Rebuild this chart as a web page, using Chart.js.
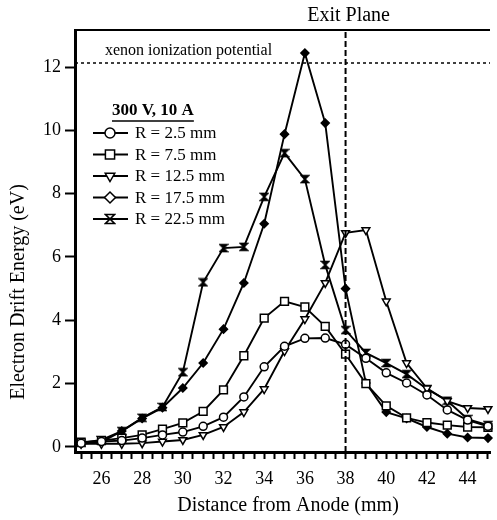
<!DOCTYPE html>
<html>
<head>
<meta charset="utf-8">
<script src="https://cdn.jsdelivr.net/npm/chart.js@4.4.1/dist/chart.umd.min.js"></script>
<style>
  html, body { margin: 0; padding: 0; background: #fff; }
  canvas { display: block; }
</style>
</head>
<body>
<canvas id="drift-chart" width="497" height="520"></canvas>
<script>
// Distance from anode (mm)
const distances = [25, 26, 27, 28, 29, 30, 31, 32, 33, 34, 35, 36, 37, 38, 39, 40, 41, 42, 43, 44, 45];

// Electron drift energy (eV) at each radius
const r2_5 = [0.12, 0.17, 0.2, 0.28, 0.38, 0.47, 0.65, 0.94, 1.58, 2.53, 3.18, 3.43, 3.44, 3.24, 2.8, 2.34, 2.02, 1.64, 1.17, 0.85, 0.65];
const r7_5 = [0.15, 0.2, 0.28, 0.38, 0.56, 0.76, 1.12, 1.8, 2.88, 4.07, 4.6, 4.42, 3.81, 2.93, 2.0, 1.3, 0.92, 0.77, 0.69, 0.63, 0.62];
const r12_5 = [0.1, 0.1, 0.1, 0.12, 0.17, 0.22, 0.38, 0.63, 1.1, 1.83, 3.03, 4.04, 5.18, 6.76, 6.85, 4.6, 2.65, 1.85, 1.45, 1.23, 1.2];
const r17_5 = [0.1, 0.15, 0.5, 0.9, 1.24, 1.86, 2.65, 3.72, 5.18, 7.05, 9.88, 12.44, 10.23, 5.0, 2.02, 1.1, 0.9, 0.63, 0.42, 0.3, 0.28];
const r22_5 = [0.13, 0.22, 0.5, 0.92, 1.26, 2.36, 5.2, 6.28, 6.32, 7.9, 9.28, 8.46, 5.75, 3.69, 2.97, 2.65, 2.3, 1.83, 1.46, 0.88, 0.69];

const seriesLabels = ['R = 2.5 mm', 'R = 7.5 mm', 'R = 12.5 mm', 'R = 17.5 mm', 'R = 22.5 mm'];

// Axis ticks
const xLabelTicks = [26, 28, 30, 32, 34, 36, 38, 40, 42, 44];
const yLabelTicks = [0, 2, 4, 6, 8, 10, 12];
const xRange = [24.7, 45.1];
const yRange = [-0.16, 13.17];

// Reference lines
const ionizationPotential = 12.13; // xenon, eV
const exitPlane = 38; // mm

const FONT = 'Liberation Serif';

// hourglass marker (no built-in style for it)
function makeHourglass(filled, size) {
    const c = document.createElement('canvas');
    c.width = size;
    c.height = size;
    const g = c.getContext('2d');
    const a = 1.5, b = size - 1.5;
    g.lineWidth = 1.6;
    g.strokeStyle = '#000';
    g.fillStyle = '#000';
    g.beginPath();
    g.moveTo(a, a);
    g.lineTo(b, a);
    g.lineTo(a, b);
    g.lineTo(b, b);
    g.closePath();
    if (filled) g.fill();
    g.stroke();
    return c;
}
const hourglassFilled = makeHourglass(true, 10);
const hourglassOpen = makeHourglass(false, 12);

function toPoints(values) {
    return values.map((v, i) => ({ x: distances[i], y: v }));
}

function seriesDataset(label, values, style) {
    return Object.assign({
        label: label,
        data: toPoints(values),
        borderColor: '#000',
        borderWidth: 1.9,
        pointBorderColor: '#000',
        pointBackgroundColor: '#fff',
        pointBorderWidth: 1.5,
        tension: 0,
        clip: false
    }, style);
}

const legendStyles = [
    { pointStyle: 'circle', radius: 5, rotation: 0 },
    { pointStyle: 'rect', radius: 6.5, rotation: 0 },
    { pointStyle: 'triangle', radius: 5.5, rotation: 180 },
    { pointStyle: 'rectRot', radius: 5.5, rotation: 0 },
    { pointStyle: hourglassOpen, radius: 6, rotation: 0 }
];

// Draws texts, top frame line and the legend box
const decorPlugin = {
    id: 'decor',
    afterDraw(chart) {
        const ctx = chart.ctx;
        const area = chart.chartArea;
        ctx.save();

        // top frame line
        ctx.strokeStyle = '#000';
        ctx.lineWidth = 2;
        ctx.beginPath();
        ctx.moveTo(area.left, area.top);
        ctx.lineTo(area.right, area.top);
        ctx.stroke();

        ctx.fillStyle = '#000';
        ctx.textBaseline = 'middle';

        // Exit Plane label
        ctx.font = '20px "' + FONT + '"';
        ctx.textAlign = 'center';
        ctx.fillText('Exit Plane', chart.scales.x.getPixelForValue(exitPlane) + 3, 16);

        // ionization label
        ctx.font = '16px "' + FONT + '"';
        ctx.textAlign = 'left';
        ctx.fillText('xenon ionization potential', 105, 51);

        // axis titles
        ctx.font = '20px "' + FONT + '"';
        ctx.textAlign = 'center';
        ctx.fillText('Distance from Anode (mm)', 288, 506);
        ctx.save();
        ctx.translate(19, 292);
        ctx.rotate(-Math.PI / 2);
        ctx.fillText('Electron Drift Energy (eV)', 0, 0);
        ctx.restore();

        // legend heading
        ctx.font = 'bold 17px "' + FONT + '"';
        ctx.textAlign = 'left';
        const heading = '300 V, 10 A';
        ctx.fillText(heading, 112, 111);
        const hw = ctx.measureText(heading).width;
        ctx.lineWidth = 1.5;
        ctx.beginPath();
        ctx.moveTo(112, 121);
        ctx.lineTo(112 + hw, 121);
        ctx.stroke();

        // legend entries
        ctx.font = '17px "' + FONT + '"';
        seriesLabels.forEach((label, i) => {
            const y = 133 + i * 21.5;
            ctx.strokeStyle = '#000';
            ctx.lineWidth = 1.8;
            ctx.beginPath();
            ctx.moveTo(93, y);
            ctx.lineTo(128, y);
            ctx.stroke();
            ctx.fillStyle = '#fff';
            ctx.lineWidth = 1.5;
            Chart.helpers.drawPoint(ctx, Object.assign({ borderWidth: 1.5 }, legendStyles[i]), 110, y);
            ctx.fillStyle = '#000';
            ctx.fillText(label, 135, y + 1);
        });

        ctx.restore();
    }
};

const ctx = document.getElementById('drift-chart').getContext('2d');
const driftChart = new Chart(ctx, {
    type: 'line',
    data: {
        datasets: [
            // reference lines
            {
                label: 'ionization',
                data: [{ x: xRange[0], y: ionizationPotential }, { x: xRange[1], y: ionizationPotential }],
                borderColor: '#000',
                borderWidth: 1.5,
                borderDash: [3, 3],
                pointRadius: 0
            },
            {
                label: 'exit plane',
                data: [{ x: exitPlane, y: yRange[0] }, { x: exitPlane, y: yRange[1] }],
                borderColor: '#000',
                borderWidth: 2,
                borderDash: [6, 3],
                pointRadius: 0
            },
            seriesDataset(seriesLabels[0], r2_5, { pointStyle: 'circle', pointRadius: 4 }),
            seriesDataset(seriesLabels[1], r7_5, { pointStyle: 'rect', pointRadius: 5.5 }),
            seriesDataset(seriesLabels[2], r12_5, { pointStyle: 'triangle', pointRadius: 4.5, pointRotation: 180 }),
            seriesDataset(seriesLabels[3], r17_5, { pointStyle: 'rectRot', pointRadius: 4, pointBackgroundColor: '#000' }),
            seriesDataset(seriesLabels[4], r22_5, { pointStyle: hourglassFilled, pointRadius: 5 })
        ]
    },
    options: {
        responsive: false,
        animation: false,
        layout: { padding: { top: 30, right: 0, left: 0, bottom: 0 } },
        plugins: {
            legend: { display: false },
            tooltip: { enabled: false }
        },
        scales: {
            x: {
                type: 'linear',
                min: xRange[0],
                max: xRange[1],
                afterBuildTicks: (scale) => {
                    const ticks = [];
                    for (let v = 25; v <= 45; v += 0.5) ticks.push({ value: v });
                    scale.ticks = ticks;
                },
                afterFit: (scale) => { scale.height = 68; },
                ticks: {
                    autoSkip: false,
                    maxRotation: 0,
                    padding: 9,
                    color: '#000',
                    font: { family: FONT, size: 18 },
                    callback: (value) => xLabelTicks.includes(value) ? String(value) : ''
                },
                grid: {
                    drawOnChartArea: false,
                    tickLength: 7,
                    tickWidth: 2,
                    tickColor: '#000'
                },
                border: { display: true, width: 3, color: '#000' }
            },
            y: {
                type: 'linear',
                min: yRange[0],
                max: yRange[1],
                afterBuildTicks: (scale) => {
                    scale.ticks = yLabelTicks.map(v => ({ value: v }));
                },
                afterFit: (scale) => { scale.width = 75; },
                ticks: {
                    padding: 4,
                    color: '#000',
                    font: { family: FONT, size: 18 }
                },
                grid: {
                    drawOnChartArea: false,
                    tickLength: 10,
                    tickWidth: 2,
                    tickColor: '#000'
                },
                border: { display: true, width: 3, color: '#000' }
            }
        }
    },
    plugins: [decorPlugin]
});
</script>
</body>
</html>
